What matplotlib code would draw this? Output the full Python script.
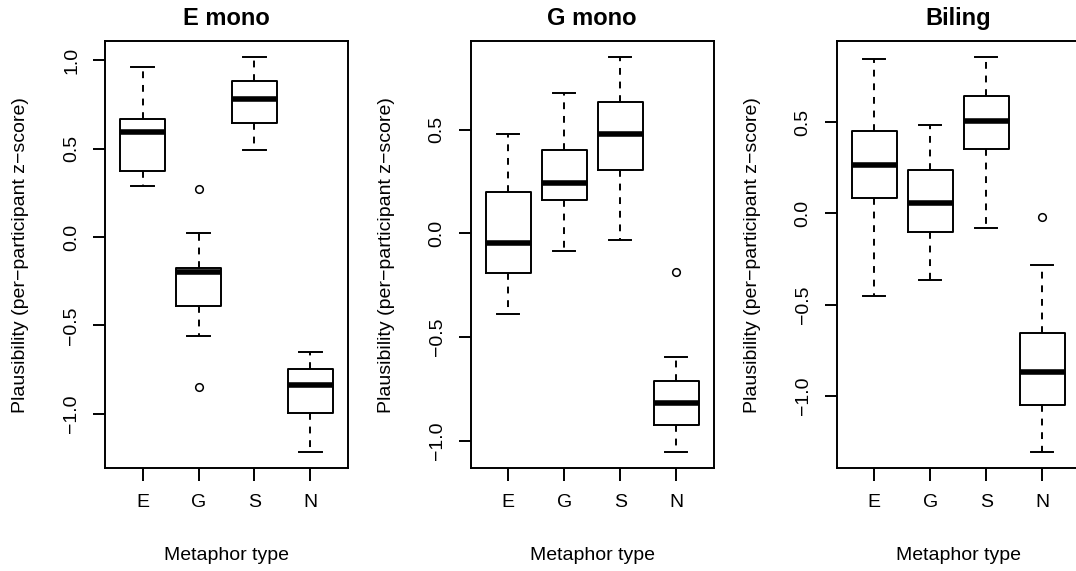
import matplotlib
matplotlib.use("Agg")
import matplotlib.pyplot as plt
from matplotlib.ticker import MultipleLocator, FuncFormatter

plt.rcParams['font.family'] = ['Liberation Sans', 'DejaVu Sans']

# ---------------- data ----------------
categories = ['E', 'G', 'S', 'N']
panels = ['E mono', 'G mono', 'Biling']

# per panel, per metaphor type
whishi = [[0.965, 0.023, 1.019, -0.652],
          [0.480, 0.675, 0.851, -0.598],
          [0.845, 0.485, 0.857, -0.284]]
q3 = [[0.670, -0.175, 0.885, -0.749],
      [0.202, 0.403, 0.635, -0.712],
      [0.453, 0.236, 0.643, -0.655]]
med = [[0.592, -0.200, 0.784, -0.835],
       [-0.046, 0.241, 0.482, -0.818],
       [0.264, 0.056, 0.509, -0.869]]
q1 = [[0.373, -0.390, 0.645, -0.998],
      [-0.192, 0.162, 0.306, -0.925],
      [0.086, -0.100, 0.354, -1.047]]
whislo = [[0.291, -0.559, 0.491, -1.217],
          [-0.389, -0.084, -0.032, -1.055],
          [-0.451, -0.367, -0.080, -1.308]]
fliers = [[[], [0.274, -0.848], [], []],
          [[], [], [], [-0.188]],
          [[], [], [], [-0.018]]]

# ---------------- layout (pixels of a 1076x571 figure) ----------------
W, H = 1076, 571
fig = plt.figure(figsize=(W / 100, H / 100), dpi=100)
ax_left = [105, 470.7, 836.7]
ax_w = 243
ax_top, ax_bot = 41.2, 468

FS = 14
lw = 1.4


def fmt(v, pos):
    if abs(v) < 1e-9:
        v = 0.0
    return f"{v:.1f}".replace('-', '\u2212')


for p in range(3):
    ax = fig.add_axes([ax_left[p] / W, (H - ax_bot) / H, ax_w / W, (ax_bot - ax_top) / H])
    stats = []
    for k in range(4):
        stats.append(dict(med=med[p][k], q1=q1[p][k], q3=q3[p][k],
                          whislo=whislo[p][k], whishi=whishi[p][k],
                          fliers=fliers[p][k], label=categories[k]))
    ax.bxp(stats, positions=[1, 2, 3, 4], widths=0.8, capwidths=0.4,
           boxprops=dict(color='black', lw=lw),
           medianprops=dict(color='black', lw=4, solid_capstyle='butt'),
           whiskerprops=dict(color='black', lw=lw, linestyle=(0, (3.5, 3.5))),
           capprops=dict(color='black', lw=lw),
           flierprops=dict(marker='o', markerfacecolor='none', markeredgecolor='black',
                           markersize=5.5, markeredgewidth=1.1))

    # R style 4% range extension
    allv = whislo[p] + whishi[p] + [f for fl in fliers[p] for f in fl]
    lo, hi = min(allv), max(allv)
    pad = 0.04 * (hi - lo)
    ax.set_ylim(lo - pad, hi + pad)
    ax.set_xlim(0.33, 4.67)

    ax.yaxis.set_major_locator(MultipleLocator(0.5))
    ax.yaxis.set_major_formatter(FuncFormatter(fmt))
    ax.tick_params(axis='both', length=9, width=lw, labelsize=FS, color='black')
    ax.tick_params(axis='x', pad=10)
    ax.tick_params(axis='y', pad=9)
    plt.setp(ax.get_yticklabels(), rotation=90, va='center')
    for s in ax.spines.values():
        s.set_linewidth(lw)

    ax.set_title(panels[p], fontsize=17, fontweight='bold', pad=11.7)

    cx = ax_left[p] + ax_w / 2
    fig.text(cx / W, 1 - 555 / H, 'Metaphor type', ha='center', va='center', fontsize=FS)
    fig.text((ax_left[p] - 84) / W, 1 - (ax_top + ax_bot) / 2 / H,
             'Plausibility (per\u2212participant z\u2212score)',
             ha='center', va='center', rotation=90, fontsize=FS)

fig.savefig('out.png', dpi=100)
